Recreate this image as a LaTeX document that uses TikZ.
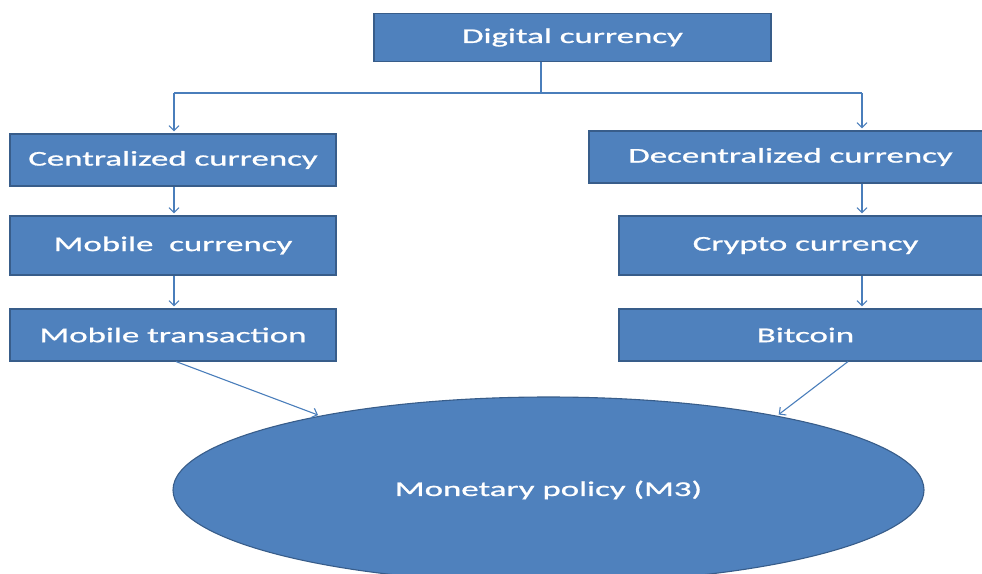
\documentclass[tikz,border=0pt]{standalone}
\usepackage{fontspec}
\setmainfont{Carlito}[FakeStretch=1.66,FakeBold=1]
\usepackage{xcolor}
\usetikzlibrary{shapes.geometric,arrows.meta}
\definecolor{boxblue}{HTML}{4F81BD}
\definecolor{boxline}{HTML}{385D8A}
\definecolor{arrblue}{HTML}{4A7EBB}

\begin{document}
\begin{tikzpicture}[x=1pt,y=-1pt,
  box/.style={rectangle,draw=boxline,line width=1.1pt,fill=boxblue,text=white,
    inner sep=0pt,font=\fontsize{21}{25}\selectfont},
  conn/.style={draw=arrblue,line width=1.1pt,-{Straight Barb[length=5pt,width=10pt]},shorten >=2pt}]
\useasboundingbox (0,0) rectangle (982,573);
\node (dig) at ( 572.5,37.5) [box,minimum width=397pt,minimum height=48pt] {Digital currency};
\node (cen) at ( 173,160) [box,minimum width=326pt,minimum height=52pt] {Centralized currency};
\node (dec) at ( 790.5,157) [box,minimum width=403pt,minimum height=52pt] {Decentralized currency};
\node (mob) at ( 173,245.5) [box,minimum width=326pt,minimum height=59pt] {Mobile\ \ currency};
\node (cry) at ( 805.5,245.5) [box,minimum width=373pt,minimum height=59pt] {Crypto currency};
\node (mtr) at ( 173,335) [box,minimum width=326pt,minimum height=52pt] {Mobile transaction};
\node (bit) at ( 805.5,335) [box,minimum width=373pt,minimum height=52pt] {Bitcoin};
\node (pol) at ( 548.5,490) [ellipse,draw=boxline,line width=1.1pt,fill=boxblue,text=white,
  inner sep=0pt,minimum width=751pt,minimum height=186pt,font=\fontsize{21}{25}\selectfont] {Monetary policy (M3)};
\coordinate (split) at (541,93);
\coordinate (left) at (174,93);
\coordinate (right) at (862,93);
\draw [draw=arrblue,line width=1.1pt] (dig.south -| split) -- (split);
\draw [draw=arrblue,line width=1.1pt] (left) -- (right);
\draw [conn] (left) -- (cen.north -| left);
\draw [conn] (right) -- (dec.north -| right);
\draw [conn] (cen.south -| left) -- (mob.north -| left);
\draw [conn] (mob.south -| left) -- (mtr.north -| left);
\draw [conn] (dec.south -| right) -- (cry.north -| right);
\draw [conn] (cry.south -| right) -- (bit.north -| right);
\draw [conn] (mtr.south -| 176,0) -- (pol.162);
\draw [conn] (bit.south -| 848,0) -- (pol.18);
\end{tikzpicture}
\end{document}
